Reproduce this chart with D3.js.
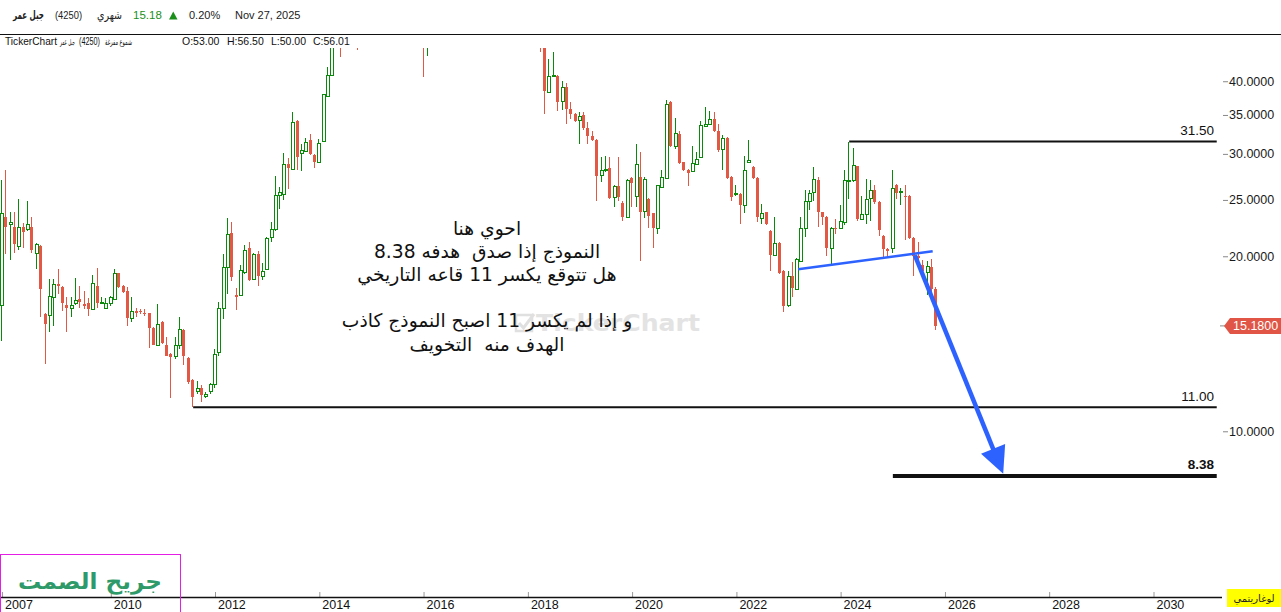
<!DOCTYPE html>
<html><head><meta charset="utf-8">
<script src="https://cdn.jsdelivr.net/npm/d3@7"></script>
<style>
html,body{margin:0;padding:0;background:#fff;overflow:hidden}
svg{display:block}
text{font-family:"Liberation Sans",Arial,sans-serif}
.ar{font-family:"DejaVu Sans",sans-serif}
</style></head><body>
<svg id="c" width="1281" height="612"></svg>
<script>
// ---------------- DATA ----------------
const firstMonth = [2007, 11];   // Dec 2007 (monthly candles through Nov 2025)
const lastMonthExclusive = [2025, 11];

const opens = [
16.5,23.4,22.7,22.5,20.8,22.5,22.3,22.5,20.3,20.8,15.9,15.85,
17.05,17.9,17.7,16.5,16.3,16.6,16.9,16.55,16.6,16.2,17.8,16.6,
16.3,16.6,16.9,18.7,17.75,17.4,15.65,16.1,16.1,16.0,15.95,15.05,
14.1,15.4,14.1,13.6,13.45,14.1,14.95,13.35,12.25,11.75,11.85,11.5,
11.75,12.05,13.7,16.3,19.2,21.95,17.15,17.15,18.8,20.7,18.3,20.15,
18.5,19.0,21.6,22.3,25.5,25.55,28.8,28.3,34.2,30.15,30.3,31.7,
29.9,29.05,31.6,37.8,41.0,47.6,52.5,53.0,56.0,59.5,54.0,49.5,
54.5,56.0,60.5,64.0,60.0,66.5,69.0,62.0,64.5,55.0,53.5,58.0,
54.0,51.0,47.5,51.5,56.5,58.0,57.0,59.0,62.5,58.5,55.5,56.5,
60.0,63.0,61.5,58.0,60.0,56.5,57.5,54.0,55.5,59.0,56.0,53.0,
54.0,55.5,52.5,50.0,49.0,47.0,38.4,40.9,40.9,37.0,39.1,35.8,
35.2,34.3,35.0,33.2,32.2,31.7,27.6,28.1,28.4,25.3,26.4,24.7,
23.4,27.3,25.4,27.4,23.9,25.1,23.7,22.4,26.3,27.3,36.8,30.9,
32.5,29.0,28.2,28.0,28.8,29.6,33.5,33.8,34.5,32.9,30.6,32.0,
27.4,25.55,25.6,24.5,29.0,28.5,27.3,23.3,23.8,22.1,20.1,21.1,
18.9,16.5,18.5,17.6,19.65,22.4,24.9,25.8,27.1,23.8,23.4,20.7,
22.4,22.4,22.9,27.0,27.05,28.6,23.2,23.65,25.2,26.0,24.8,21.7,
20.6,20.7,26.5,25.8,25.4,25.4,21.5,20.0,19.35,18.8,19.2,17.6];
const highs = [
27.0,28.2,23.8,23.8,25.1,22.8,24.9,23.4,21.1,20.9,15.95,18.25,
18.25,19.0,17.75,17.05,17.0,18.35,17.75,17.4,16.95,18.6,19.1,17.0,
16.95,17.1,19.0,18.75,17.85,17.7,17.0,16.3,16.2,16.2,16.0,15.1,
16.55,15.45,14.55,13.65,14.5,15.7,15.0,13.4,12.3,12.2,12.0,11.7,
12.1,13.85,16.7,20.2,23.3,22.9,17.65,19.3,20.95,21.15,20.25,20.4,
19.45,21.6,22.9,27.45,26.3,30.05,29.5,35.4,34.25,31.2,32.0,32.5,
29.95,31.8,38.1,42.3,48.5,55.0,55.0,56.5,61.0,63.0,56.0,55.5,
58.0,62.0,66.0,67.5,68.0,72.0,70.5,66.0,65.0,58.0,60.0,59.5,
56.0,52.0,53.0,58.0,60.0,61.5,60.0,64.0,63.5,60.0,58.0,62.0,
64.0,66.0,63.0,61.0,62.5,59.0,58.5,57.0,60.5,61.0,58.0,55.0,
57.5,58.0,54.0,53.0,51.0,48.0,43.6,45.0,41.0,40.1,39.8,36.8,
35.3,35.4,35.4,34.0,32.9,31.8,29.6,29.8,29.6,26.5,29.6,24.9,
27.15,27.4,31.2,30.2,27.4,25.15,23.75,26.55,28.2,37.2,37.0,34.6,
32.8,29.05,28.25,31.0,30.2,34.2,36.1,35.6,35.4,33.8,32.3,32.1,
27.45,26.5,25.65,29.8,31.7,28.6,27.35,24.6,23.85,22.15,23.4,21.15,
18.95,18.9,19.55,19.85,23.35,26.0,26.0,28.5,27.4,23.85,23.45,22.45,
23.2,24.5,28.1,31.5,30.7,28.65,25.4,27.2,27.1,26.5,24.85,21.8,
20.65,28.2,26.6,26.2,26.5,25.45,21.55,21.2,19.7,19.6,19.8,17.7];
const lows = [
14.3,20.2,19.7,20.3,20.5,20.7,22.1,20.3,19.0,15.7,13.05,14.8,
15.2,17.25,16.1,14.8,15.7,16.5,16.3,16.2,15.8,16.15,16.3,16.55,
16.3,16.4,16.85,17.65,17.3,15.2,15.4,15.7,15.9,15.8,13.9,14.05,
14.05,14.15,13.45,11.4,13.3,13.85,13.0,12.05,11.0,11.6,11.25,11.4,
11.6,11.85,13.5,15.6,17.25,18.15,16.15,17.1,18.65,18.1,18.25,17.8,
18.2,18.95,21.15,22.1,24.1,25.0,26.1,28.25,28.2,28.0,30.25,29.9,
28.4,29.0,31.55,37.7,40.9,46.5,44.0,50.0,54.5,52.0,45.2,48.0,
52.0,55.0,59.0,58.0,59.0,64.0,60.0,58.5,52.0,51.0,52.5,52.0,
49.0,40.6,44.2,50.5,54.0,55.5,53.0,58.0,57.0,54.0,52.5,55.0,
58.5,60.0,57.0,56.0,55.5,53.0,52.5,51.5,54.5,55.0,52.0,50.0,
52.5,51.0,48.5,47.5,45.0,35.2,38.3,40.8,35.6,35.7,33.8,34.5,
34.0,31.2,33.0,31.2,31.6,24.9,26.8,27.9,25.1,24.3,24.9,23.0,
23.3,24.3,24.3,19.6,23.3,22.4,20.7,21.85,26.2,27.2,30.8,30.6,
28.8,28.0,26.4,27.95,28.7,29.55,33.4,33.7,32.7,30.2,28.2,27.2,
24.9,25.4,22.7,23.7,28.95,27.2,22.9,22.7,22.65,18.9,20.0,18.65,
16.05,16.35,17.0,17.55,19.6,21.6,24.0,24.9,22.5,22.6,20.05,19.35,
21.85,22.35,22.6,25.1,26.8,23.0,23.1,22.7,23.0,24.6,21.7,19.95,
19.95,20.25,25.1,24.5,21.3,21.4,18.5,19.4,18.8,17.15,17.35,14.95];
const closes = [
23.7,22.5,22.9,21.0,22.5,22.0,22.7,20.5,21.0,17.6,15.3,17.1,
17.9,17.75,16.6,16.3,16.5,16.8,16.7,16.45,16.2,18.0,16.6,16.7,
16.65,17.05,18.7,17.7,17.35,15.65,16.1,16.0,16.05,15.9,15.05,14.1,
15.3,14.2,13.5,13.4,14.05,15.0,13.45,12.15,11.45,11.85,11.55,11.6,
12.05,13.6,16.3,19.15,21.85,18.45,17.05,18.95,20.5,18.2,20.2,18.5,
18.9,21.5,22.3,25.5,25.75,28.8,28.35,34.0,29.65,30.5,31.5,30.0,
29.05,31.3,38.0,41.0,47.6,53.0,51.0,56.01,59.5,54.0,49.5,54.5,
56.0,60.5,64.0,60.0,66.5,69.0,62.0,64.5,55.0,53.5,58.0,54.0,
51.0,47.5,51.5,56.5,58.0,57.0,59.0,62.5,58.5,55.5,56.5,60.0,
63.0,61.5,58.0,60.0,56.5,57.5,54.0,55.5,59.0,56.0,53.0,54.0,
55.5,52.5,50.0,49.0,47.0,38.5,40.9,41.05,36.8,39.1,35.8,35.1,
34.2,34.9,33.2,32.2,31.7,27.5,28.1,28.3,25.2,26.4,25.3,23.4,
27.1,26.7,28.8,23.8,27.2,23.5,22.4,26.5,27.4,36.5,30.9,32.6,
28.9,28.1,27.8,28.9,29.4,33.6,33.8,34.4,32.8,30.5,32.0,27.3,
25.3,25.7,24.5,28.1,29.3,27.3,23.35,23.7,22.7,20.1,21.1,18.7,
16.45,18.5,17.65,19.8,22.4,24.9,25.7,27.2,23.8,23.35,20.7,22.4,
22.3,23.0,27.1,27.1,28.7,23.2,23.65,25.1,26.0,24.8,22.2,20.6,
20.45,26.25,25.7,25.9,25.3,21.5,20.05,19.9,18.9,19.25,17.6,15.18];

const yTickValues = [10, 20, 25, 30, 35, 40];
const yTickLabels = ["10.0000","20.0000","25.0000","30.0000","35.0000","40.0000"];
const xTickDates = ["2007-12-01","2010-01-01","2012-01-01","2014-01-01","2016-01-01","2018-01-01","2020-01-01","2022-01-01","2024-01-01","2026-01-01","2028-01-01","2030-01-01"];
const xTickLabels = ["2007","2010","2012","2014","2016","2018","2020","2022","2024","2026","2028","2030"];

const levelValues = [31.5, 11.0, 8.38];
const levelLabels = ["31.50", "11.00", "8.38"];
const levelStartDates = ["2024-03-01", "2011-08-01", "2025-01-01"];
const levelEndDate = "2031-03-20";

const necklineDates = ["2023-03-09", "2025-10-07"];
const necklineValues = [19.0, 20.4];
const arrowDates = ["2025-06-04", "2027-02-13"];
const arrowValues = [20.08, 8.45];

const lastPrice = 15.18;
const lastPriceLabel = "15.1800";

const annotationLines = ["احوي هنا", "النموذج إذا صدق  هدفه 8.38", "هل تتوقع يكسر 11 قاعه التاريخي", "", "و إذا لم يكسر 11 اصبح النموذج كاذب", "الهدف منه  التخويف"];

// ---------------- DRAW ----------------
const W = 1281, H = 612;
const plotTop = 35, plotBottom = 597, clipTop = 48, plotRight = 1218;
const svg = d3.select("#c");
const parse = d3.timeParse("%Y-%m-%d");

const x = d3.scaleTime().domain([new Date(2012,0,1), new Date(2030,0,1)]).range([215, 1153.5]);
const y = d3.scaleLog().domain([5.188, 48.04]).range([plotBottom, plotTop]);

const months = d3.timeMonth.range(new Date(firstMonth[0], firstMonth[1], 1), new Date(lastMonthExclusive[0], lastMonthExclusive[1], 1));
const candles = months.map((d,i)=>({date:d, o:opens[i], h:highs[i], l:lows[i], c:closes[i]}));

const upCol = "#0a8a0a", downCol = "#e35745", blue = "#2d62ff";

svg.append("defs").append("clipPath").attr("id","clip")
  .append("rect").attr("x",0).attr("y",clipTop).attr("width",plotRight).attr("height",plotBottom-clipTop);

// watermark
const wm = svg.append("g").attr("transform","translate(515,313)");
wm.append("rect").attr("x",1).attr("y",2).attr("width",16).attr("height",16).attr("fill","none").attr("stroke","#e0e0e0").attr("stroke-width",2.5);
wm.append("path").attr("d","M4,10 L8.5,15 L19,1").attr("fill","none").attr("stroke","#e0e0e0").attr("stroke-width",3);
wm.append("text").attr("class","ar").attr("x",21).attr("y",18).attr("font-size",23).attr("font-weight","bold")
  .attr("textLength",164).attr("lengthAdjust","spacingAndGlyphs").attr("fill","#e3e3e3").text("TickerChart");

// candles
const cg = svg.append("g").attr("clip-path","url(#clip)").attr("shape-rendering","crispEdges");
cg.selectAll("line.wick").data(candles).join("line").attr("class","wick")
  .attr("x1",d=>Math.round(x(d.date))-0.5).attr("x2",d=>Math.round(x(d.date))-0.5)
  .attr("y1",d=>y(d.h)).attr("y2",d=>y(d.l))
  .attr("stroke",d=>d.c>=d.o?upCol:downCol).attr("stroke-width",1);
cg.selectAll("rect.body").data(candles).join("rect").attr("class","body")
  .attr("x",d=>d.c>=d.o ? Math.round(x(d.date))-1.5 : Math.round(x(d.date))-2)
  .attr("y",d=>{const t=Math.round(y(Math.max(d.o,d.c))); return d.c>=d.o ? t+0.5 : t;})
  .attr("width",3)
  .attr("height",d=>Math.max(Math.round(y(Math.min(d.o,d.c)))-Math.round(y(Math.max(d.o,d.c))), 1))
  .attr("fill",d=>d.c>=d.o?"#fff":downCol)
  .attr("stroke",d=>d.c>=d.o?upCol:"none").attr("stroke-width",1);

// horizontal levels
const levelWidths = [2, 2, 4];
levelValues.forEach((v,i)=>{
  const yy = y(v);
  svg.append("line").attr("x1",x(parse(levelStartDates[i]))).attr("x2",x(parse(levelEndDate)))
    .attr("y1",yy).attr("y2",yy).attr("stroke","#111").attr("stroke-width",levelWidths[i]);
  svg.append("text").attr("x",1214).attr("y",yy-6.5).attr("text-anchor","end")
    .attr("font-size",13.5).attr("font-weight",i===2?"bold":"normal").attr("fill","#111").text(levelLabels[i]);
});

// neckline
svg.append("line")
  .attr("x1",x(parse(necklineDates[0]))).attr("y1",y(necklineValues[0]))
  .attr("x2",x(parse(necklineDates[1]))).attr("y2",y(necklineValues[1]))
  .attr("stroke",blue).attr("stroke-width",2.5);

// arrow
{
  const x0 = x(parse(arrowDates[0])), y0 = y(arrowValues[0]);
  const x1 = x(parse(arrowDates[1])), y1 = y(arrowValues[1]);
  const dx=x1-x0, dy=y1-y0, L=Math.hypot(dx,dy), ux=dx/L, uy=dy/L, nx=-uy, ny=ux;
  const hl=27, hw=13;
  const bx=x1-ux*hl, by=y1-uy*hl;
  svg.append("line").attr("x1",x0).attr("y1",y0).attr("x2",bx+ux*2).attr("y2",by+uy*2)
    .attr("stroke",blue).attr("stroke-width",4.5);
  svg.append("path").attr("d",`M${x1},${y1}L${bx+nx*hw},${by+ny*hw}L${bx-nx*hw},${by-ny*hw}Z`).attr("fill",blue);
}

// annotation
const annY0 = 234.5, annStep = 23.2;
annotationLines.forEach((t,i)=>{
  if(!t) return;
  svg.append("text").attr("class","ar").attr("x",487).attr("y",annY0+i*annStep)
    .attr("text-anchor","middle").attr("direction","rtl").style("white-space","pre")
    .attr("font-size",18.7).attr("fill","#111").text(t);
});

// header
svg.append("line").attr("x1",0).attr("x2",W).attr("y1",34.5).attr("y2",34.5).attr("stroke","#111").attr("stroke-width",1);
const h1 = svg.append("g").attr("font-size",11).attr("fill","#222");
h1.append("text").attr("class","ar").attr("x",13).attr("y",19).attr("font-weight","bold").attr("font-size",11.5)
  .attr("textLength",31).attr("lengthAdjust","spacingAndGlyphs").text("جبل عمر");
h1.append("text").attr("x",55).attr("y",19).attr("textLength",27).attr("lengthAdjust","spacingAndGlyphs").text("(4250)");
h1.append("text").attr("class","ar").attr("x",97).attr("y",19).attr("font-size",11.5)
  .attr("textLength",25).attr("lengthAdjust","spacingAndGlyphs").text("شهري");
h1.append("text").attr("x",133).attr("y",19).attr("font-size",11.5).attr("fill","#1a8f1a").text(closes[closes.length-1].toFixed(2));
h1.append("path").attr("d","M169,19.5L177.5,19.5L173.25,11.5Z").attr("fill","#1a8f1a");
h1.append("text").attr("x",189).attr("y",19).text("0.20%");
h1.append("text").attr("x",235).attr("y",19).text("Nov 27, 2025");

const h2 = svg.append("g").attr("font-size",10.5).attr("fill","#111");
h2.append("text").attr("x",5).attr("y",45).attr("textLength",52).attr("lengthAdjust","spacingAndGlyphs").text("TickerChart");
h2.append("text").attr("class","ar").attr("x",60).attr("y",45).attr("font-size",8.5)
  .attr("textLength",15).attr("lengthAdjust","spacingAndGlyphs").text("جبل عمر");
h2.append("text").attr("x",79).attr("y",45).attr("font-size",10).attr("textLength",21).attr("lengthAdjust","spacingAndGlyphs").text("(4250)");
h2.append("text").attr("class","ar").attr("x",105).attr("y",45).attr("font-size",8.5)
  .attr("textLength",27).attr("lengthAdjust","spacingAndGlyphs").text("شموع مفرغة");
[["O:53.00",182],["H:56.50",227],["L:50.00",271],["C:56.01",313]].forEach(([t,xx])=>h2.append("text").attr("x",xx).attr("y",45).text(t));

// right axis
const ay = svg.append("g").attr("transform","translate(1223,0)")
  .call(d3.axisRight(y).tickValues(yTickValues).tickFormat((d,i)=>yTickLabels[i]).tickSize(5).tickPadding(1));
ay.select(".domain").remove();
ay.selectAll(".tick line").attr("stroke","#888");
ay.selectAll(".tick text").attr("font-size",12.5).attr("fill","#1a1a1a").attr("font-family","Liberation Sans, Arial, sans-serif");

// last price tag
{
  const yy = y(lastPrice);
  svg.append("line").attr("x1",1220).attr("x2",1226).attr("y1",yy).attr("y2",yy).attr("stroke","#888");
  svg.append("path").attr("d",`M1224,${yy}L1230,${yy-8}L1281,${yy-8}L1281,${yy+8}L1230,${yy+8}Z`).attr("fill","#e05545");
  svg.append("text").attr("x",1233).attr("y",yy+4.5).attr("font-size",12.5).attr("fill","#fff").text(lastPriceLabel);
}

// bottom axis
const ax = svg.append("g").attr("transform",`translate(0,${plotBottom})`)
  .call(d3.axisBottom(x).tickValues(xTickDates.map(parse)).tickFormat((d,i)=>xTickLabels[i]).tickSize(-5).tickPadding(3));
ax.select(".domain").remove();
ax.selectAll(".tick line").attr("stroke","#999");
ax.selectAll(".tick text").attr("text-anchor","start").attr("x",2.5).attr("y",3)
  .attr("font-size",12.5).attr("fill","#111").attr("font-family","Liberation Sans, Arial, sans-serif");
svg.append("line").attr("x1",0).attr("x2",1222).attr("y1",plotBottom+0.5).attr("y2",plotBottom+0.5).attr("stroke","#111").attr("stroke-width",1.5);

// log label
svg.append("rect").attr("x",1227).attr("y",589).attr("width",54).attr("height",18).attr("fill","#ffff00");
svg.append("text").attr("class","ar").attr("x",1254).attr("y",602).attr("text-anchor","middle").attr("font-size",10).attr("fill","#222").text("لوغاريتمي");

// signature box
svg.append("rect").attr("x",0.5).attr("y",554.5).attr("width",180).attr("height",62).attr("fill","none").attr("stroke","#e41ee4").attr("stroke-width",1);
svg.append("text").attr("class","ar").attr("x",18).attr("y",589).attr("font-size",22).attr("font-weight","bold")
  .attr("textLength",144).attr("lengthAdjust","spacingAndGlyphs").attr("fill","#2f9a69").text("جريح الصمت");
</script>
</body></html>
